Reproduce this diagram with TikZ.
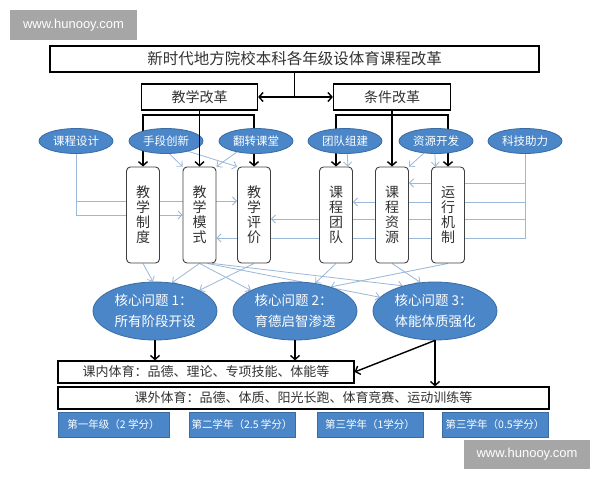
\documentclass[tikz,border=0pt]{standalone}
\usepackage{fontspec}
\setmainfont{Noto Sans CJK SC}
\newfontfamily\wmfont{Liberation Sans}
\usetikzlibrary{shapes.geometric,arrows.meta,backgrounds,calc}
\definecolor{ellfill}{HTML}{4A86C8}
\definecolor{elldraw}{HTML}{3A6CA3}
\definecolor{thinc}{HTML}{9AB8D8}
\definecolor{boxtxt}{HTML}{333333}
\definecolor{wmgray}{HTML}{A6A6A6}
\tikzset{
 topbox/.style={draw=black, line width=1.2pt, fill=white, inner sep=0pt, text=boxtxt},
 vbox/.style={draw=black!75, line width=0.9pt, rounded corners=4pt, fill=white, minimum width=33pt, minimum height=96pt, inner sep=0pt, align=center, font=\fontsize{14}{15}\selectfont, text=boxtxt},
 topell/.style={ellipse, draw=elldraw, line width=0.8pt, fill=ellfill, minimum width=74pt, minimum height=25pt, inner sep=0pt, text=white, font=\fontsize{11.5}{12}\selectfont},
 coreell/.style={ellipse, draw=elldraw, line width=0.8pt, fill=ellfill, minimum width=124pt, minimum height=58pt, inner sep=0pt, text=white, align=left, font=\fontsize{13.5}{21}\selectfont},
 credit/.style={draw=elldraw, line width=0.8pt, fill=ellfill, minimum width=106pt, minimum height=25pt, inner sep=0pt, text=white, font=\fontsize{10.5}{12}\selectfont},
 blk/.style={line width=1.4pt, black},
 blkarr/.style={blk, -{Straight Barb[length=4pt,width=9pt]}},
 thinl/.style={thinc, line width=0.8pt},
 thinarr/.style={thinl, -{Straight Barb[length=4pt,width=8pt]}},
 wm/.style={fill=wmgray, text=white, font=\wmfont\fontsize{13}{13}\selectfont, inner sep=0pt}
}
\begin{document}
\begin{tikzpicture}[x=1pt,y=-1pt]
\useasboundingbox (0,0) rectangle (600,480);
% watermarks
\node[wm, minimum width=127pt, minimum height=30pt] (wm1) at (73.5,25) {www.hunooy.com};
\node[wm, minimum width=126pt, minimum height=29pt] (wm2) at (527,454.5) {www.hunooy.com};
% top boxes
\node[topbox, minimum width=489pt, minimum height=26pt, font=\fontsize{15.5}{16}\selectfont] (title) at (294.5,59) {新时代地方院校本科各年级设体育课程改革};
\node[topbox, minimum width=116pt, minimum height=26pt, font=\fontsize{14}{15}\selectfont] (jx) at (199.5,97) {教学改革};
\node[topbox, minimum width=117pt, minimum height=26pt, font=\fontsize{14}{15}\selectfont] (tj) at (392,97) {条件改革};
% vertical boxes
\node[vbox] (zd) at (143,215) {教\\学\\制\\度};
\node[vbox] (ms) at (199.5,215) {教\\学\\模\\式};
\node[vbox] (pj) at (254,215) {教\\学\\评\\价};
\node[vbox] (td) at (336,215) {课\\程\\团\\队};
\node[vbox] (zy) at (392,215) {课\\程\\资\\源};
\node[vbox] (yx) at (448,215) {运\\行\\机\\制};
% top ellipses
\node[topell] (kc) at (76,141) {课程设计};
\node[topell] (sd) at (166,141) {手段创新};
\node[topell] (fz) at (256,141) {翻转课堂};
\node[topell] (zj) at (345,141) {团队组建};
\node[topell] (kf) at (436,141) {资源开发};
\node[topell] (kj) at (525,141) {科技助力};
% core ellipses
\node[coreell] (c1) at (155,311) {核心问题 1：\\所有阶段开设};
\node[coreell] (c2) at (295,311) {核心问题 2：\\育德启智渗透};
\node[coreell] (c3) at (435,311) {核心问题 3：\\体能体质强化};
% bottom boxes
\node[topbox, minimum width=296pt, minimum height=22pt, font=\fontsize{13}{14}\selectfont] (kn) at (206,372) {课内体育：品德、理论、专项技能、体能等};
\node[topbox, minimum width=491pt, minimum height=22pt, font=\fontsize{13}{14}\selectfont] (kw) at (303.5,398) {课外体育：品德、体质、阳光长跑、体育竞赛、运动训练等};
\node[credit, minimum width=111pt] (b1) at (113.5,424.5) {第一年级（2 学分）};
\node[credit] (b2) at (242,424.5) {第二学年（2.5 学分）};
\node[credit] (b3) at (370,424.5) {第三学年（1学分）};
\node[credit] (b4) at (495,424.5) {第三学年（0.5学分）};

\coordinate (br) at (0,115);
\coordinate (ya) at (0,183);
\coordinate (yb) at (0,201);
\coordinate (yb2) at (0,202);
\coordinate (yc) at (0,219);
\coordinate (yd) at (0,238);

\begin{pgfonlayer}{background}
\fill[white] (0,0) rectangle (600,480);
% black structure
\draw[blk] (title.south) -- (title.south |- jx.east);
\draw[blkarr] (title.south |- jx.east) -- (jx.east);
\draw[blkarr] (title.south |- tj.west) -- (tj.west);
\draw[blkarr] (jx.south |- br) -| (zd.north);
\draw[blkarr] (jx.south |- br) -| (pj.north);
\draw[blkarr] (tj.south |- br) -| (td.north);
\draw[blkarr] (tj.south |- br) -| (yx.north);
\draw[blkarr] (tj.south) -- (zy.north);
% thin connectors
\draw[thinarr] (kc.south) |- (ms.west);
\draw[thinarr] (kc.south |- yb) -- (pj.west |- yb);
\draw[thinarr] (kj.south) |- (ms.east |- yd);
\draw[thinarr] (kj.south |- ya) -- (zy.east |- ya);
\draw[thinarr] (kj.south |- yb2) -- (td.east |- yb2);
\draw[thinarr] (kj.south |- yc) -- (pj.east |- yc);
\draw[thinarr] (sd.-75) -- (ms.north west);
\draw[thinarr] (sd.-25) -- (pj.north west);
\draw[thinarr] (fz.-150) -- (ms.north east);
\draw[thinarr] (zj.-80) -- ([xshift=-5pt]td.north east);
\draw[thinarr] (kf.-135) -- (zy.north east);
\draw[thinarr] (kf.-95) -- ([xshift=4.5pt]yx.north west);
\draw[thinarr] (zd.south) -- (c1.94);
\draw[thinarr] (ms.south) -- (c1.59);
\draw[thinarr] (pj.south) -- (c1.25);
\draw[thinarr] (ms.south) -- (c2.155);
\draw[thinarr] ([xshift=8pt]ms.south) -- (c3.166);
\draw[thinarr] ([xshift=13pt]ms.south) -- (c3.142);
\draw[thinarr] (td.south) -- (c2.54);
\draw[thinarr] (yx.south) -- (c2.34);
\draw[thinarr] (zy.south) -- (c3.117);
\end{pgfonlayer}
% black connectors on top
\draw[blkarr] (jx.south) -- (jx.south |- ms.north);
\draw[blkarr] (c1.south) -- (c1.south |- kn.north);
\draw[blkarr] (c2.south) -- (c2.south |- kn.north);
\draw[blkarr] (c3.south) -- (kn.east);
\draw[blkarr] (c3.south) -- (c3.south |- kw.north);
\end{tikzpicture}
\end{document}
